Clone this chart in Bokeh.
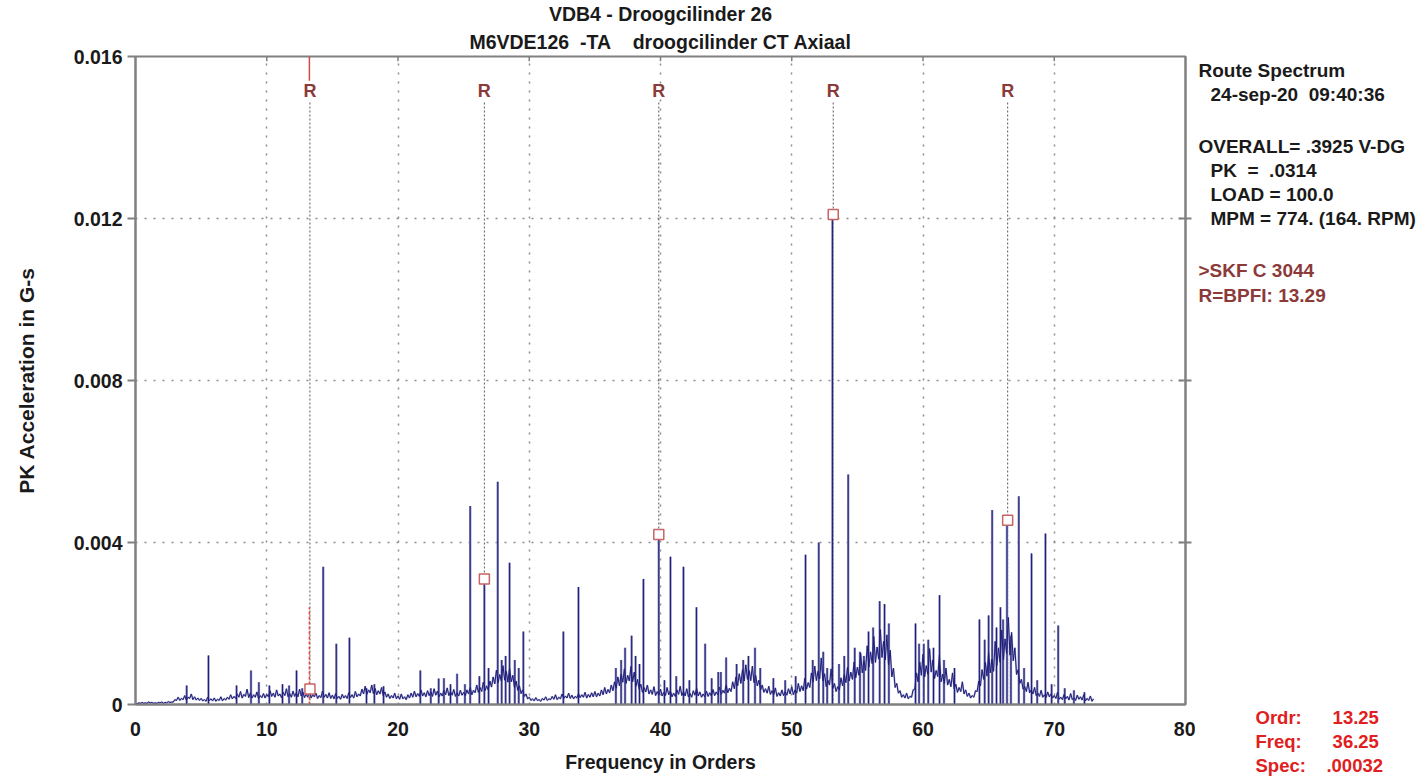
from bokeh.plotting import figure
from bokeh.layouts import row
from bokeh.models import Range1d, LinearAxis, FixedTicker, PrintfTickFormatter, Title
from bokeh.core.properties import value
from bokeh.embed import file_html
from bokeh.resources import INLINE

# ---------------- data ----------------
floor_step = 0.25  # orders per floor bin
# noise floor maxima, in 1e-4 G, bins 0.00 .. 73.00 orders
floor_vals = [
    0.3, 0.4, 0.5, 0.4, 0.6, 0.5, 0.4, 0.5, 0.6, 0.5, 0.7, 0.6, 1.2, 1.8, 1.5, 2.2, 1.8, 2.6, 1.9, 1.6,
    1.5, 1.2, 1.8, 1.4, 1.6, 1.3, 1.9, 1.5, 1.8, 2.4, 2.0, 2.6, 3.2, 2.5, 3.8, 2.8, 2.4, 3.1, 2.2, 2.7,
    2.5, 3.4, 2.8, 3.6, 2.6, 3.0, 3.9, 2.7, 3.3, 2.9, 3.8, 3.1, 2.6, 3.5, 2.4, 2.8, 2.2, 3.3, 2.5, 2.9,
    2.3, 2.7, 2.0, 2.5, 2.2, 2.9, 2.4, 3.2, 2.6, 3.8, 4.5, 3.6, 4.8, 4.0, 3.4, 4.2, 3.1, 2.6, 2.2, 2.8,
    2.1, 2.6, 1.9, 2.4, 2.8, 3.3, 2.7, 3.6, 2.9, 3.4, 3.1, 3.9, 3.3, 2.8, 3.5, 4.1, 3.2, 3.7, 2.9, 3.5,
    3.0, 3.6, 4.2, 3.5, 4.8, 4.2, 5.5, 4.6, 5.8, 6.8, 8.5, 7.4, 9.6, 8.2, 9.0, 7.2, 5.8, 4.6, 3.6, 2.6,
    1.8, 1.4, 1.7, 1.2, 1.5, 1.9, 1.4, 2.0, 2.4, 1.8, 2.6, 2.1, 2.8, 2.3, 2.0, 2.7, 2.4, 3.0, 2.5, 2.9,
    3.2, 2.8, 3.6, 4.2, 3.7, 4.8, 5.6, 6.8, 7.5, 8.8, 7.2, 9.4, 8.0, 6.2, 5.0, 4.2, 4.8, 3.6, 4.4, 3.2,
    3.8, 3.0, 4.2, 3.4, 2.8, 3.6, 4.5, 3.2, 3.9, 2.7, 3.4, 4.0, 3.1, 2.6, 3.3, 2.9, 3.7, 3.1, 4.3, 3.5,
    4.8, 4.0, 5.6, 6.8, 7.6, 8.6, 9.8, 8.4, 9.5, 7.2, 6.0, 4.8, 3.9, 4.5, 3.4, 4.1, 2.9, 3.6, 3.2, 3.9,
    4.4, 3.6, 5.2, 4.6, 6.5, 5.4, 7.8, 9.5, 8.2, 11.5, 7.6, 6.0, 8.8, 5.2, 4.4, 6.6, 7.4, 9.2, 8.0, 10.5,
    9.2, 12.6, 10.8, 14.5, 13.0, 16.8, 14.2, 18.5, 15.6, 17.2, 13.4, 9.0, 5.2, 3.4, 2.4, 2.8, 2.0, 3.6, 7.8, 10.5,
    12.4, 9.6, 13.8, 11.0, 8.4, 12.2, 7.5, 9.0, 6.2, 7.8, 5.0, 4.2, 5.6, 3.6, 2.8, 2.2, 3.4, 5.8, 8.6, 10.4,
    12.8, 11.2, 15.6, 14.0, 18.4, 16.2, 21.5, 17.8, 14.0, 8.6, 6.2, 4.4, 5.5, 3.6, 4.2, 2.8, 3.5, 2.4, 3.1, 2.6,
    2.2, 3.0, 1.8, 2.5, 2.0, 2.7, 1.6, 2.3, 1.9, 2.4, 1.5, 2.1, 1.4,
]
# noise floor minima between the bins above (1e-4 G)
trough_vals = [
    0.2, 0.3, 0.3, 0.3, 0.4, 0.3, 0.3, 0.4, 0.3, 0.4, 0.5, 0.6, 1.0, 1.0, 1.2, 1.1, 1.5, 1.2, 1.1, 1.0,
    0.9, 0.8, 1.0, 0.9, 0.8, 1.0, 0.9, 1.1, 1.3, 1.4, 1.5, 1.8, 1.6, 2.0, 1.7, 1.6, 1.8, 1.5, 1.7, 1.6,
    1.9, 2.0, 1.8, 2.1, 1.7, 2.2, 1.9, 1.8, 2.0, 1.9, 2.1, 1.7, 1.8, 1.6, 1.9, 1.5, 1.7, 1.8, 1.6, 1.5,
    1.4, 1.5, 1.3, 1.6, 1.5, 1.7, 1.6, 1.9, 2.1, 2.6, 2.5, 2.9, 2.7, 2.4, 2.6, 2.2, 1.8, 1.5, 1.6, 1.4,
    1.3, 1.4, 1.2, 1.6, 1.8, 1.9, 2.0, 2.1, 1.9, 2.2, 2.0, 2.3, 1.9, 2.1, 2.4, 2.2, 2.3, 2.0, 2.1, 2.3,
    2.2, 2.6, 2.4, 2.9, 3.0, 3.2, 3.4, 3.6, 4.3, 5.1, 5.4, 5.8, 6.0, 5.5, 5.6, 4.2, 3.5, 2.7, 2.0, 1.4,
    1.0, 0.9, 1.0, 0.8, 1.1, 1.0, 1.2, 1.3, 1.2, 1.4, 1.5, 1.6, 1.5, 1.4, 1.6, 1.7, 1.8, 1.6, 1.8, 1.9,
    1.9, 2.1, 2.4, 2.6, 2.9, 3.4, 4.0, 4.6, 5.5, 5.2, 5.8, 5.6, 4.5, 3.8, 3.0, 3.1, 2.6, 2.5, 2.2, 2.3,
    2.1, 2.2, 2.4, 1.9, 2.0, 2.5, 2.2, 2.1, 1.9, 1.8, 2.3, 2.1, 1.8, 1.9, 2.0, 2.1, 2.2, 2.4, 2.5, 2.8,
    2.9, 3.2, 3.9, 4.6, 5.2, 5.8, 6.2, 5.9, 5.4, 4.6, 3.6, 3.0, 2.8, 2.5, 2.4, 2.0, 2.1, 2.2, 2.3, 2.6,
    2.4, 2.8, 3.2, 3.4, 3.8, 4.2, 5.5, 5.9, 6.3, 5.8, 4.4, 4.8, 3.9, 3.2, 3.6, 4.6, 5.4, 5.8, 6.2, 6.6,
    7.2, 7.8, 8.4, 9.2, 10.1, 10.4, 11.2, 11.6, 11.0, 9.8, 6.8, 4.2, 2.8, 1.8, 1.6, 1.4, 1.8, 3.8, 5.6, 7.2,
    6.8, 7.4, 8.0, 6.4, 6.9, 5.6, 5.2, 4.8, 4.4, 3.9, 3.0, 3.2, 2.6, 2.0, 1.6, 1.8, 3.2, 4.6, 6.2, 7.0,
    7.8, 8.2, 9.6, 10.4, 11.0, 12.6, 12.2, 10.8, 7.4, 5.2, 3.8, 3.2, 2.9, 2.6, 2.2, 2.0, 1.8, 1.7, 1.9, 1.6,
    1.5, 1.3, 1.2, 1.4, 1.1, 1.2, 1.0, 1.3, 1.1, 0.9, 1.0, 0.8,
]

# discrete spectral lines: order, amplitude (G)
peak_orders = [
    3.9, 5.56, 7.7, 8.8, 9.4, 10.2, 11.2, 11.7, 12.27, 12.7,
    14.3, 15.3, 16.3, 17.6, 18.2, 18.9, 21.7, 22.5, 23.1, 23.5, 24.0, 24.5, 25.1,
    25.5, 26.2, 26.58, 26.9, 27.6, 27.9, 28.2, 28.5, 28.9, 29.2, 29.55,
    32.6, 33.75, 36.6, 37.0, 37.3, 37.8, 38.1, 38.4, 38.7, 39.87,
    40.3, 40.76, 41.2, 41.75, 42.2, 42.74, 43.4, 43.9, 44.4, 44.6, 45.0, 45.8,
    46.3, 46.7, 47.2, 47.6, 48.6, 49.5, 50.3,
    51.05, 51.6, 52.06, 52.4, 52.7, 53.1, 53.6, 54.0, 54.3, 54.8, 55.2, 55.5, 55.85,
    56.2, 56.7, 57.07, 57.4, 59.43, 59.7, 60.06, 60.4, 60.8, 61.26, 61.6, 62.4,
    64.3, 64.7, 65.0, 65.27, 65.6, 65.9, 66.1, 66.4, 66.7, 67.3, 67.7,
    68.27, 68.7, 69.33, 69.8, 70.3, 70.8, 71.5, 72.3,
]
peak_amps = [
    0.00047, 0.00121, 0.00047, 0.00084, 0.00055, 0.00047, 0.00050, 0.00047, 0.00084, 0.00040,
    0.00340, 0.00150, 0.00165, 0.00040, 0.00050, 0.00045, 0.00084, 0.00040, 0.00064, 0.00065, 0.00050, 0.00076, 0.00050,
    0.00490, 0.00070, 0.00310, 0.00090, 0.00550, 0.00110, 0.00120, 0.00350, 0.00110, 0.00090, 0.00180,
    0.00180, 0.00290, 0.00090, 0.00110, 0.00140, 0.00170, 0.00120, 0.00100, 0.00310, 0.00420,
    0.00060, 0.00365, 0.00070, 0.00340, 0.00060, 0.00240, 0.00150, 0.00065, 0.00080, 0.00080, 0.00116, 0.00100,
    0.00110, 0.00120, 0.00140, 0.00090, 0.00065, 0.00060, 0.00070,
    0.00370, 0.00110, 0.00400, 0.00130, 0.00090, 0.01210, 0.00100, 0.00120, 0.00568, 0.00140, 0.00130, 0.00120, 0.00180,
    0.00190, 0.00255, 0.00248, 0.00200, 0.00200, 0.00150, 0.00150, 0.00160, 0.00140, 0.00270, 0.00110, 0.00090,
    0.00210, 0.00160, 0.00220, 0.00480, 0.00190, 0.00240, 0.00210, 0.00455, 0.00170, 0.00514, 0.00090,
    0.00373, 0.00060, 0.00422, 0.00050, 0.00195, 0.00040, 0.00035, 0.00030,
]

# bearing fault harmonics (R = BPFI 13.29) and marker amplitudes
r_orders = [13.29, 26.58, 39.87, 53.16, 66.45]
marker_vals = [0.00038, 0.00310, 0.00420, 0.01210, 0.00455]
cursor_order = 13.25

x_ticks = [0, 10, 20, 30, 40, 50, 60, 70, 80]
x_grid = [10, 20, 30, 40, 50, 60, 70]
y_ticks = [0, 0.004, 0.008, 0.012, 0.016]
y_grid = [0.004, 0.008, 0.012]

title_1 = "VDB4 - Droogcilinder 26"
title_2 = "M6VDE126\u00a0\u00a0-TA\u00a0\u00a0\u00a0\u00a0droogcilinder CT Axiaal"
x_label = "Frequency in Orders"
y_label = "PK Acceleration in G-s"
info_lines = ["Route Spectrum", "24-sep-20\u00a0\u00a009:40:36", "OVERALL= .3925 V-DG",
              "PK\u00a0 =\u00a0 .0314", "LOAD = 100.0", "MPM = 774. (164. RPM)"]
bearing_lines = [">SKF C 3044", "R=BPFI: 13.29"]
cursor_lines = ["Ordr:" + "\u00a0" * 6 + "13.25",
                "Freq:" + "\u00a0" * 6 + "36.25",
                "Spec:" + "\u00a0" * 4 + ".00032"]

# ---------------- styling ----------------
FONT = "Liberation Sans"
FS = "19.5px"
TXT = "#1a1a1a"
AXC = "#808080"
NAVY = "#1e1e7a"
NAVY_LIGHT = "#8c8cbc"
DRED = "#8b3a3a"
RED = "#e02020"
H = 776
TOP, BOTTOM = 56, 72

# main plot: frame at page x 135..1185, y 56..704
p = figure(width=1195, height=H, x_range=Range1d(0, 80), y_range=Range1d(0, 0.016),
           output_backend="svg", toolbar_location=None, title=None,
           min_border_left=135, min_border_right=10, min_border_top=TOP, min_border_bottom=BOTTOM)
p.outline_line_color = AXC
p.outline_line_width = 2
p.border_fill_color = "white"

xa = p.xaxis[0]
xa.ticker = FixedTicker(ticks=x_ticks)
xa.minor_tick_line_color = None
xa.major_tick_in = 0
xa.major_tick_out = 0
xa.major_label_standoff = 17
xa.axis_line_color = AXC
xa.axis_line_width = 2
xa.major_label_text_font = FONT
xa.major_label_text_font_style = "bold"
xa.major_label_text_font_size = FS
xa.major_label_text_color = TXT
xa.axis_label = x_label
xa.axis_label_text_font = FONT
xa.axis_label_text_font_style = "bold"
xa.axis_label_text_font_size = FS
xa.axis_label_text_color = TXT
xa.axis_label_standoff = 12

ya = p.yaxis[0]
ya.ticker = FixedTicker(ticks=y_ticks)
ya.formatter = PrintfTickFormatter(format="%.3f")
ya.major_label_overrides = {0: "0"}
ya.minor_tick_line_color = None
ya.major_tick_in = 0
ya.major_tick_out = 8
ya.major_tick_line_color = AXC
ya.major_tick_line_width = 2
ya.major_label_standoff = 5
ya.axis_line_color = AXC
ya.axis_line_width = 2
ya.major_label_text_font = FONT
ya.major_label_text_font_style = "bold"
ya.major_label_text_font_size = FS
ya.major_label_text_color = TXT
ya.axis_label = y_label
ya.axis_label_text_font = FONT
ya.axis_label_text_font_style = "bold"
ya.axis_label_text_font_size = "21px"
ya.axis_label_text_color = TXT
ya.axis_label_standoff = 33

ra = LinearAxis(ticker=FixedTicker(ticks=y_grid), major_label_overrides={t: "" for t in y_grid},
                minor_tick_line_color=None, major_tick_in=7, major_tick_out=6,
                major_tick_line_color=AXC, major_tick_line_width=2,
                axis_line_color=AXC, axis_line_width=2, major_label_standoff=0)
p.add_layout(ra, "right")

for t, so in ((title_2, 8), (title_1, 0)):
    p.add_layout(Title(text=t, align="center", text_font=FONT, text_font_style="bold",
                       text_font_size=FS, text_color=TXT, standoff=so, offset=0), "above")

p.xgrid.ticker = FixedTicker(ticks=x_grid)
p.ygrid.ticker = FixedTicker(ticks=y_grid)
for g in (p.xgrid[0], p.ygrid[0]):
    g.grid_line_color = "#8c8c8c"
    g.grid_line_dash = "2 7"
    g.grid_line_width = 1.5

# small tick marks hanging from the top frame edge
p.segment(x0=x_grid, y0=[0.016] * len(x_grid), x1=x_grid, y1=[0.01588] * len(x_grid),
          line_color=AXC, line_width=1.5)

# harmonic marker lines and labels
n_r = len(r_orders)
p.segment(x0=r_orders, y0=[0] * n_r, x1=r_orders, y1=[0.0149] * n_r,
          line_color="#5a5a5a", line_width=1, line_dash="2 2")
p.text(x=r_orders, y=[0.01516] * n_r, text=["R"] * n_r,
       text_align="center", text_baseline="middle", text_color=DRED,
       text_font=value(FONT), text_font_style="bold", text_font_size="18px")

# spectrum: floor (alternating bin maxima / minima) + discrete lines
spec_x, spec_y = [], []
for i, v in enumerate(floor_vals):
    spec_x.append(i * floor_step)
    spec_y.append(v * 1e-4)
    if i < len(trough_vals):
        spec_x.append(i * floor_step + floor_step / 2)
        spec_y.append(trough_vals[i] * 1e-4)

p.segment(x0=peak_orders, y0=[0] * len(peak_orders), x1=peak_orders, y1=peak_amps,
          line_color=NAVY_LIGHT, line_width=2.4)
p.line(spec_x, spec_y, line_color=NAVY_LIGHT, line_width=1.8, line_alpha=0.7)
p.segment(x0=peak_orders, y0=[0] * len(peak_orders), x1=peak_orders, y1=peak_amps,
          line_color=NAVY, line_width=1)
p.line(spec_x, spec_y, line_color=NAVY, line_width=1)

# cursor
p.segment(x0=[cursor_order], y0=[0.0154], x1=[cursor_order], y1=[0.016],
          line_color="#d04848", line_width=1.5)
p.segment(x0=[cursor_order], y0=[0], x1=[cursor_order], y1=[0.0024],
          line_color="#e04848", line_width=1.5, line_dash="3 2")

# markers
p.scatter(r_orders, marker_vals, marker="square", size=10, fill_color="white",
          line_color="#c86464", line_width=1.5)

# side panel: frame spans page y 56..704, data units = page pixels
side = figure(width=225, height=H, x_range=Range1d(1195, 1420), y_range=Range1d(H - BOTTOM, TOP),
              output_backend="svg", toolbar_location=None, title=None,
              x_axis_type=None, y_axis_type=None,
              min_border_left=0, min_border_right=0, min_border_top=TOP, min_border_bottom=BOTTOM)
side.outline_line_color = None
side.border_fill_color = "white"

def side_text(xs, ys, texts, color, size):
    side.text(x=xs, y=ys, text=texts, text_align="left", text_baseline="middle",
              text_color=color, text_font=value(FONT), text_font_style="bold",
              text_font_size=size)

side_text([1198, 1210, 1198, 1210, 1210, 1210], [70, 94, 146, 170, 194, 218], info_lines, TXT, "19px")
side_text([1198, 1198], [270, 295], bearing_lines, DRED, "19px")

# cursor readout below the side frame
for t in cursor_lines:
    side.add_layout(Title(text=t, align="left", offset=60, text_font=FONT, text_font_style="bold",
                          text_font_size="18.5px", text_color=RED, standoff=1), "below")

layout = row(p, side, spacing=0)
open("out.html", "w").write(file_html(layout, INLINE))
